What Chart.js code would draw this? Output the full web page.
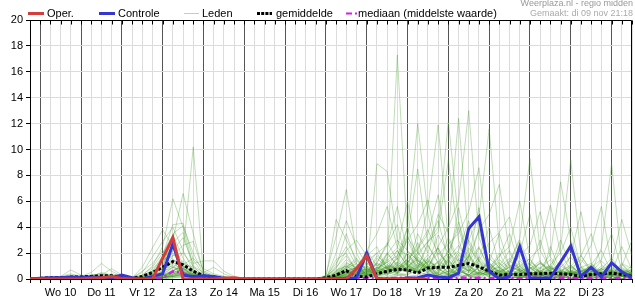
<!DOCTYPE html>
<html lang="nl">
<head>
<meta charset="UTF-8">
<title>Neerslag pluim</title>
<style>
  body { margin: 0; background: #fff; font-family: "Liberation Sans", Arial, sans-serif; }
  #wrap { position: relative; width: 635px; height: 300px; }
  .lg { position: absolute; top: 7px; font-size: 11px; line-height: 13px; color: #000; white-space: nowrap; }
  .sw { position: absolute; top: 7px; }
  .info { position: absolute; right: 2px; font-size: 9px; color: #999; white-space: nowrap; }
</style>
</head>
<body>
<div id="wrap">
  <canvas id="chart" width="635" height="300"></canvas>
  <svg class="sw" style="left:28px" width="16" height="13"><line x1="0" y1="6.5" x2="16" y2="6.5" stroke="#d43d3d" stroke-width="3"/></svg>
  <div class="lg" style="left:47px">Oper.</div>
  <svg class="sw" style="left:99px" width="16" height="13"><line x1="0" y1="6.5" x2="16" y2="6.5" stroke="#3535d0" stroke-width="3"/></svg>
  <div class="lg" style="left:118px">Controle</div>
  <svg class="sw" style="left:184px" width="15" height="13"><line x1="0" y1="6.5" x2="15" y2="6.5" stroke="#b5dba5" stroke-width="1"/></svg>
  <div class="lg" style="left:202px">Leden</div>
  <svg class="sw" style="left:257px" width="15" height="13"><line x1="0" y1="6.5" x2="15" y2="6.5" stroke="#000" stroke-width="3" stroke-dasharray="3 1.2"/></svg>
  <div class="lg" style="left:276px">gemiddelde</div>
  <svg class="sw" style="left:346px" width="12" height="13"><line x1="0" y1="6.5" x2="12" y2="6.5" stroke="#d31ee8" stroke-width="2" stroke-dasharray="6 3 2 3"/></svg>
  <div class="lg" style="left:358px">mediaan (middelste waarde)</div>
  <div class="info" style="top:-2px">Weerplaza.nl - regio midden</div>
  <div class="info" style="top:8px;color:#aaa">Gemaakt: di 09 nov 21:18</div>
</div>

<script src="https://cdn.jsdelivr.net/npm/chart.js"></script>
<script>
  // 6-hourly steps from di 9 nov 18:00 to wo 24 nov 12:00
  const dayLabels = ['Wo 10', 'Do 11', 'Vr 12', 'Za 13', 'Zo 14', 'Ma 15', 'Di 16',
                     'Wo 17', 'Do 18', 'Vr 19', 'Za 20', 'Zo 21', 'Ma 22', 'Di 23'];
  const yTicks = [0, 2, 4, 6, 8, 10, 12, 14, 16, 18, 20];

  const oper = [
    0, 0, 0, 0, 0, 0, 0.05, 0.1, 0.2, 0.05,
    0, 0, 0, 1.6, 3.2, 0, 0, 0, 0, 0.05,
    0.1, 0, 0, 0, 0, 0, 0, 0, 0, 0,
    0, 0, 0.8, 1.8, 0, 0, 0, 0, 0, 0
  ];
  const controle = [
    0, 0.05, 0.1, 0.1, 0.15, 0.1, 0.15, 0.1, 0.1, 0.3,
    0.1, 0, 0.2, 0.4, 2.7, 0.3, 0.2, 0.25, 0.2, 0.05,
    0, 0, 0, 0, 0, 0, 0, 0, 0, 0,
    0, 0.05, 0.1, 2.0, 0, 0, 0, 0.05, 0.1, 0.3,
    0.15, 0.1, 0.45, 3.9, 4.8, 0.6, 0, 0.2, 2.5, 0.05,
    0.05, 0.1, 1.3, 2.55, 0.2, 0.9, 0.15, 1.25, 0.55, 0.1
  ];
  const gemiddelde = [
    0, 0.05, 0.1, 0.1, 0.15, 0.15, 0.2, 0.25, 0.25, 0.15,
    0.05, 0.2, 0.5, 0.9, 1.35, 1.1, 0.6, 0.25, 0.15, 0.05,
    0.02, 0, 0, 0, 0, 0, 0, 0, 0, 0.1,
    0.3, 0.65, 0.2, 0.15, 0.4, 0.6, 0.75, 0.7, 0.45, 0.85,
    0.9, 0.9, 1.05, 1.2, 0.95, 0.6, 0.3, 0.35, 0.35, 0.4,
    0.4, 0.45, 0.4, 0.35, 0.2, 0.35, 0.4, 0.45, 0.35, 0.2
  ];
  const mediaan = [
    0, 0, 0, 0, 0, 0, 0, 0, 0, 0,
    0, 0, 0, 0.1, 0.6, 0.45, 0.1, 0, 0, 0,
    0, 0, 0, 0, 0, 0, 0, 0, 0, 0,
    0, 0.05, 0.05, 0.1, 0.05, 0.05, 0.1, 0.1, 0.05, 0.1,
    0.1, 0.05, 0.1, 0.1, 0.1, 0.05, 0.1, 0.1, 0.05, 0.1,
    0.1, 0.05, 0.1, 0.1, 0.05, 0.1, 0.1, 0.05, 0.1, 0.05
  ];

  const leden = [
    [0,0,0.1,0.1,0.2,0.1,0.1,0.2,0.1,0, 0,0.1,0.8,1.5,1.8,2.0,10.2,0.3,0.1,0, 0,0,0,0,0,0,0,0,0,0.2, 1.2,2.5,1.0,0.4,0.8,1.5,0.6,1.2,2.8,0.9, 0.5,1.8,0.7,0.3,0.9,0.4,0.2,1.1,0.6,0.3, 0.8,1.5,0.4,0.2,0.6,1.0,0.3,0.5,0.9,0.4],
    [0,0.1,0.1,0.2,0.7,0.3,0.1,0.1,0.2,0.1, 0,0.2,0.5,1.2,3.0,6.6,3.5,0.5,0.2,0.1, 0,0,0,0,0,0,0,0,0,0.3, 3.3,6.9,2.0,0.5,1.2,0.8,2.2,1.0,0.4,1.6, 2.4,0.8,0.3,1.9,0.6,0.2,0.9,0.3,1.4,0.5, 0.2,0.7,1.2,0.4,0.1,0.3,0.8,1.6,0.5,0.2],
    [0,0,0,0.1,0.1,0.2,0.3,0.4,0.2,0.1, 0,0.3,1.0,2.5,6.2,4.0,1.0,0.2,0.1,0, 0,0,0,0,0,0,0,0,0,0.1, 4.6,3.0,1.5,0.8,0.3,0.6,1.8,3.4,1.2,0.7, 1.0,3.2,1.5,0.6,0.2,0.8,2.0,0.5,0.2,1.1, 0.5,0.3,0.9,1.7,0.6,0.2,0.4,0.3,1.2,0.8],
    [0.1,0.1,0,0,0.1,0.2,0.5,1.2,0.6,0.2, 0.1,0.2,0.6,1.8,4.2,4.3,1.5,0.3,0.1,0, 0,0,0,0,0,0,0,0,0,0, 2.0,4.5,2.5,1.0,0.5,2.0,1.0,0.5,0.9,2.6, 1.2,0.4,0.8,3.0,1.4,0.5,0.3,0.2,0.7,0.4, 1.3,0.6,0.2,0.5,1.8,0.7,0.3,0.2,0.4,1.0],
    [0,0,0.1,0.1,0.1,0.1,0.2,0.3,0.8,0.3, 0.1,0.5,1.7,2.9,4.0,2.2,0.6,0.1,0,0, 0,0,0,0,0,0,0,0,0,0.1, 1.0,3.5,1.2,0.3,1.6,0.9,0.4,2.1,1.5,0.6, 0.9,2.0,4.4,1.1,0.3,0.6,1.5,0.8,0.3,0.2, 0.6,1.0,0.4,0.9,0.3,0.5,1.4,0.6,0.2,0.3],
    [0,0,0,0.1,0.3,0.2,0.1,0.1,0.1,0, 0,0.1,0.3,0.9,3.5,4.1,2.0,0.4,0.2,0.1, 0,0,0,0,0,0,0,0,0,0, 0.4,1.1,0.7,0.5,8.9,8.3,3.0,1.0,0.6,1.4, 0.8,0.3,1.2,0.6,2.4,0.9,0.4,0.2,0.8,1.6, 0.4,0.2,0.7,0.3,0.9,1.2,0.5,0.2,0.6,0.3],
    [0,0.1,0.1,0.1,0.2,0.1,0.2,0.5,0.3,0.1, 0.1,0.9,2.4,3.8,2.5,1.2,0.4,0,0,0, 0,0,0,0,0,0,0,0,0,0, 0.6,1.5,0.9,0.3,0.7,1.5,17.3,3.0,1.2,0.8, 0.4,1.5,0.6,0.3,0.9,0.5,1.0,2.2,0.7,0.3, 0.2,0.6,1.3,0.5,0.2,0.4,0.8,0.3,0.5,0.7],
    [0,0,0,0,0.1,0.2,0.2,0.1,0.1,0, 0,0.1,0.2,0.6,2.2,3.2,1.2,1.4,1.4,0.6, 0.2,0,0,0,0,0,0,0,0,0.1, 0.9,1.8,0.6,1.4,2.0,0.8,1.2,4.0,12.0,5.0, 1.6,0.7,0.3,1.0,0.5,1.3,0.4,0.2,0.6,0.9, 0.3,0.4,0.6,1.1,0.3,0.2,0.5,0.7,0.4,0.2],
    [0.1,0.1,0.1,0.2,0.4,0.2,0.1,0.2,0.3,0.1, 0,0.3,0.9,2.0,3.4,1.6,0.5,0.2,0,0, 0,0,0,0,0,0,0,0,0,0.2, 0.8,2.2,3.0,1.8,2.5,0.7,1.6,3.2,2.0,5.5, 11.9,3.0,1.2,0.6,1.5,0.8,0.3,0.6,1.2,0.4, 0.7,0.3,0.2,0.8,1.5,0.6,0.3,0.4,1.1,0.5],
    [0,0,0,0,0.1,0.1,0.1,0.2,0.1,0, 0,0,0.1,0.4,1.8,2.6,2.9,0.6,0.3,0.2, 0,0,0,0,0,0,0,0,0,0, 1.5,2.0,0.6,2.2,3.5,5.6,2.4,1.8,0.9,2.8, 4.0,12.2,4.5,1.6,0.7,0.4,1.2,0.5,0.3,0.8, 1.4,0.5,0.3,0.6,0.4,0.9,0.2,0.6,0.3,0.8],
    [0,0.1,0.2,0.2,0.1,0.1,0.3,0.4,0.2,0.1, 0,0.2,0.4,1.0,2.8,3.6,0.8,0.1,0,0, 0,0,0,0,0,0,0,0,0,0.1, 0.5,0.9,1.6,0.6,1.3,2.6,4.2,1.0,3.5,2.0, 5.0,3.6,12.4,2.8,1.0,0.5,0.3,1.4,0.8,0.2, 0.5,1.0,0.4,0.3,0.7,0.3,1.0,0.4,0.2,0.6],
    [0,0,0.1,0.1,0.1,0.2,0.1,0.1,0.2,0.1, 0.1,0.6,1.2,2.2,1.5,0.8,0.3,0,0,0, 0,0,0,0,0,0,0,0,0,0, 0.3,0.8,0.5,1.0,0.6,1.9,3.0,2.2,1.4,0.8, 2.5,4.0,6.0,13.0,3.2,1.2,0.6,0.4,0.3,0.9, 0.6,0.4,1.0,0.5,0.3,0.2,0.7,1.2,0.4,0.3],
    [0,0,0,0,0.1,0.1,0.1,0.2,0.1,0, 0,0.1,0.3,0.7,1.2,2.0,1.0,0.5,0.2,0.1, 0,0,0,0,0,0,0,0,0,0, 0.2,1.2,0.9,0.4,1.8,1.1,0.7,1.6,2.4,3.8, 1.9,2.7,3.5,5.2,8.6,2.0,0.8,0.5,1.0,0.4, 0.3,0.8,0.6,0.3,0.5,1.1,0.4,0.3,0.6,0.2],
    [0,0,0,0.1,0.2,0.3,0.2,0.1,0.1,0, 0,0.1,0.2,0.5,1.5,1.0,0.6,0.2,0.1,0, 0,0,0,0,0,0,0,0,0,0, 0.1,0.6,0.4,0.9,0.5,1.4,2.2,0.9,1.7,1.2, 3.4,2.0,1.4,3.0,4.8,11.6,2.5,1.0,0.6,0.3, 0.9,0.4,0.3,0.7,0.2,0.6,0.3,0.9,0.5,0.4],
    [0,0,0,0,0,0.1,0.1,0.1,0,0, 0,0,0,0.3,0.9,1.4,0.7,0.1,0,0, 0,0,0,0,0,0,0,0,0,0, 0.3,0.5,0.2,0.6,0.9,0.4,1.0,2.0,0.8,1.3, 0.7,1.6,2.6,1.2,3.8,5.0,7.3,2.0,0.6,0.3, 0.2,0.5,0.8,0.3,0.6,0.2,0.4,0.6,0.3,0.5],
    [0,0.1,0.1,0.1,0.1,0.2,0.3,0.2,0.4,0.2, 0.1,0.3,0.6,1.4,2.0,0.9,0.2,0,0,0, 0,0,0,0,0,0,0,0,0,0.1, 0.7,1.0,0.6,0.3,1.2,2.8,1.5,3.0,4.2,6.1, 2.2,0.9,1.5,0.7,0.4,1.6,0.9,0.3,0.5,1.2, 0.4,0.7,0.2,1.0,0.4,0.3,0.8,0.5,0.3,0.7],
    [0,0,0,0,0.1,0.1,0.2,0.1,0.1,0, 0,0,0.1,0.2,0.6,1.1,1.6,0.8,0.4,0.2, 0.1,0,0,0,0,0,0,0,0,0, 0.2,0.4,0.8,0.3,0.6,1.0,0.5,1.4,0.7,1.0, 2.0,1.2,0.6,2.4,1.4,2.8,3.6,4.8,1.6,0.6, 0.3,0.9,0.5,0.3,0.2,0.7,0.5,0.3,0.8,0.4],
    [0,0,0,0,0,0.1,0.1,0.1,0.1,0, 0,0,0,0.1,0.5,0.8,0.4,0.1,0,0, 0,0,0,0,0,0,0,0,0,0, 0.1,0.3,0.5,0.2,0.4,0.9,1.3,0.6,1.1,0.5, 1.4,0.8,2.1,0.9,1.2,0.6,1.8,2.5,6.0,1.5, 0.5,0.3,0.6,0.4,0.9,0.3,0.2,0.5,0.7,0.3],
    [0,0,0.1,0.1,0.2,0.1,0.1,0.2,0.1,0, 0,0.2,0.5,0.8,1.0,0.5,0.2,0,0,0, 0,0,0,0,0,0,0,0,0,0, 0.4,0.9,1.4,0.7,0.3,0.6,0.9,1.5,0.8,1.9, 0.6,1.3,0.8,0.5,1.1,0.4,0.7,1.4,3.1,9.3, 2.2,0.8,0.4,0.6,0.3,0.5,0.8,0.4,0.2,0.5],
    [0,0,0,0,0.1,0.1,0.1,0.1,0,0, 0,0,0,0.2,0.4,0.6,0.3,0,0,0, 0,0,0,0,0,0,0,0,0,0, 0.1,0.2,0.4,0.8,0.5,0.3,1.1,0.7,1.6,0.9, 1.2,0.5,1.9,0.8,0.4,1.0,0.6,0.9,1.8,2.6, 5.2,1.7,0.6,0.4,0.8,0.3,0.5,0.7,0.3,0.4],
    [0,0,0,0.1,0.1,0.1,0.2,0.3,0.2,0.1, 0,0.1,0.2,0.4,0.9,0.7,0.3,0.5,0.9,0.4, 0.1,0,0,0,0,0,0,0,0,0, 0.2,0.5,0.3,0.6,1.1,0.5,0.8,1.2,0.6,1.4, 0.9,2.2,1.0,0.6,1.7,0.8,1.3,0.5,1.0,1.6, 2.4,5.7,2.0,0.7,0.3,0.6,0.4,0.8,0.5,0.2],
    [0,0,0,0,0.1,0.1,0.1,0.1,0.1,0, 0,0,0.1,0.3,0.6,1.2,0.9,0.3,0.1,0, 0,0,0,0,0,0,0,0,0,0, 0.3,0.7,0.4,0.2,0.8,1.3,0.6,0.9,2.0,1.1, 0.5,1.4,0.7,1.8,0.6,1.2,0.5,0.9,0.7,1.3, 0.8,1.9,7.5,3.0,1.0,0.4,0.6,0.3,0.7,0.5],
    [0,0,0,0,0,0.1,0.1,0.1,0.1,0, 0,0,0,0.1,0.3,0.5,0.4,0.2,0.1,0, 0,0,0,0,0,0,0,0,0,0, 0.1,0.4,0.7,0.3,0.5,0.8,1.6,0.5,0.9,1.5, 0.8,0.4,1.1,0.6,1.4,0.7,0.9,1.6,0.6,0.8, 1.2,0.6,2.4,9.2,1.8,0.6,0.4,0.7,0.3,0.5],
    [0,0,0,0,0,0,0.1,0.1,0,0, 0,0,0,0.1,0.2,0.4,0.2,0,0,0, 0,0,0,0,0,0,0,0,0,0, 0.2,0.3,0.2,0.4,0.9,0.6,0.4,1.0,0.7,0.5, 0,0.4,0,0.3,0,0,0.5,0,0.2,0, 0.3,0.9,0.4,1.8,5.2,1.2,0.3,0,0.2,0],
    [0,0,0,0,0.1,0.1,0.1,0.2,0.1,0, 0,0,0.1,0.3,0.5,0.8,0.6,0.3,0.2,0.1, 0,0,0,0,0,0,0,0,0,0, 0.2,0.6,0.9,0.4,0.2,0.7,1.1,0.8,0.5,1.2, 0.2,0,0.3,0,0,0.6,0.2,0,0.3,0, 0.4,0,0.2,0.5,1.2,2.6,5.6,1.0,0.2,0.3],
    [0,0,0,0,0,0.1,0.1,0,0,0, 0,0,0,0.1,0.3,0.4,0.2,0.1,0,0, 0,0,0,0,0,0,0,0,0,0, 0.1,0.2,0.5,0.3,0.7,0.4,0.9,0.6,1.4,0.8, 0,0.3,0.8,0.2,0,0,0.2,0.6,0,0.3, 0,0.4,0,0.6,0.2,0.5,2.4,8.9,1.2,0.2],
    [0,0,0,0,0.1,0,0.1,0.1,0,0, 0,0,0,0.1,0.2,0.3,0.2,0,0,0, 0,0,0,0,0,0,0,0,0,0, 0.3,0.5,0.2,0.6,0.4,0.9,0.5,0.3,0.8,0.6, 0.4,0,0.3,0,0.5,0.2,0.6,0,0.2,0.5, 0,0.3,0.6,0,0.2,0.4,0,1.2,4.6,1.8],
    [0,0,0,0,0,0.1,0.1,0.1,0,0, 0,0,0,0.1,0.3,0.3,0.1,0,0,0, 0,0,0,0,0,0,0,0,0,0, 0.1,0.4,0.6,0.2,0.5,0.3,0.7,1.1,0.6,0.9, 0,0.3,0,0.5,0.2,0.4,0,0.3,0.5,0, 0.4,0,0.3,0,0.2,0,0.4,0.2,1.0,3.0],
    [0,0,0,0,0.1,0.1,0.1,0.1,0,0, 0,0.1,0.3,0.6,0.9,0.5,0.2,0.1,0,0, 0,0,0,0,0,0,0,0,0,0, 0.5,1.3,0.8,2.2,1.0,1.6,2.4,6.0,2.1,1.0, 0.3,0.9,0.4,1.6,5.5,1.0,0.2,0.4,0,0.3, 0,0.3,0,0.5,0.1,0,0.3,0,0.4,0],
    [0,0,0,0.1,0.1,0.2,0.1,0.1,0.1,0, 0,0.1,0.2,0.5,1.1,0.8,0.3,0.1,0,0, 0,0,0,0,0,0,0,0,0,0, 0.3,0.8,1.2,0.5,0.9,2.0,1.1,3.2,8.5,2.6, 1.3,2.0,4.0,1.0,0.3,0.6,0,0.3,0.6,0, 0.2,0,0.3,0.5,0,0.4,0,0.2,0,0.3],
    [0,0,0,0,0,0.1,0.2,0.2,0.1,0, 0,0,0.1,0.3,0.7,0.9,0.4,0.2,0,0, 0,0,0,0,0,0,0,0,0,0, 0.2,0.7,0.4,0.8,0.5,1.0,0.7,1.5,2.3,3.5, 6.5,2.1,0.8,0.3,1.0,0.3,0.5,1.2,3.0,0.9, 0.3,0,0.2,0.4,0.6,0,0.3,0,0.2,0.5],
    [0,0,0.1,0.1,0.1,0.1,0.1,0.2,0.1,0, 0,0.1,0.4,0.8,1.3,0.6,0.2,0,0,0, 0,0,0,0,0,0,0,0,0,0, 0.4,0.6,0.9,1.2,0.7,0.4,1.3,0.8,1.8,2.9, 3.6,9.2,3.0,0.8,1.6,4.0,1.0,0.2,0,0.4, 0.6,0,0,0.3,0,0.5,0.2,0,0.3,0],
    [0,0,0,0,0.1,0.1,0.1,0.1,0,0, 0,0,0.1,0.2,0.6,1.0,0.5,0.1,0,0, 0,0,0,0,0,0,0,0,0,0, 0.2,0.5,0.3,0.7,1.2,0.8,0.5,1.0,1.5,0.9, 2.4,1.0,5.5,2.0,0.6,1.3,3.5,0.9,0.3,1.0, 3.0,0.6,0.2,0,0.3,0,0.6,0.2,0,0],
    [0,0,0,0,0,0.1,0.1,0.1,0.1,0, 0,0,0.1,0.3,0.5,0.7,0.4,0.1,0,0, 0,0,0,0,0,0,0,0,0,0, 0.6,1.0,0.5,1.1,2.0,2.6,5.6,2.0,1.0,1.6, 0.6,1.5,2.2,4.5,1.3,0.5,0.2,0.7,0.3,0, 0.5,0.2,0,0.3,0.7,0,0,0.3,0,0.4],
    [0,0,0,0,0.1,0.1,0.1,0.1,0,0, 0,0,0,0.2,0.4,0.6,0.3,0.1,0,0, 0,0,0,0,0,0,0,0,0,0, 0.3,0.9,0.6,0.3,0.8,1.3,1.8,4.0,1.4,0.9, 1.3,0.5,1.0,1.7,3.8,1.1,0.4,0.2,0.8,0.5, 0,2.5,0.6,0,0,0.3,0.5,0,0.2,0],
    [0,0,0,0,0,0,0.1,0.1,0,0, 0,0,0,0.1,0.3,0.5,0.3,0.1,0,0, 0,0,0,0,0,0,0,0,0,0, 0.1,0.4,0.7,0.4,0.3,0.7,1.0,0.6,1.2,0.8, 0.8,0.3,0.6,1.1,0.4,0.9,1.7,3.5,1.0,0.3, 0.6,1.1,2.0,4.0,0.9,0.2,0,0.4,0,0.3],
    [0,0,0,0,0.1,0.1,0.1,0.1,0.1,0, 0,0,0.1,0.2,0.5,0.4,0.2,0,0,0, 0,0,0,0,0,0,0,0,0,0, 0.2,0.5,0.9,0.6,0.4,1.1,0.8,1.3,2.0,2.9, 4.5,1.5,0.6,0.3,0.9,0.4,0.7,0.3,2.0,5.0, 1.3,0.4,0.2,0.5,0,0.3,0.7,0.2,0,0],
    [0,0,0,0,0,0.1,0.1,0,0,0, 0,0,0,0.1,0.2,0.4,0.3,0.1,0,0, 0,0,0,0,0,0,0,0,0,0, 0.1,0.3,0.5,0.8,0.4,0.6,0.9,0.5,1.0,0.7, 0.2,0.9,0.4,0.7,0.3,0.6,0,0.5,0.2,0.8, 0.4,0,0.6,1.0,1.8,3.5,1.1,0.5,2.5,0.7],
    [0,0,0,0,0,0,0.1,0.1,0,0, 0,0,0,0.1,0.2,0.3,0.2,0,0,0, 0,0,0,0,0,0,0,0,0,0, 0.2,0.6,0.3,0.5,0.7,0.4,0.6,0.9,0.5,0.8, 0.3,0.6,1.0,0.2,0.5,0.3,0.7,0.4,0,0.6, 1.2,0.8,3.0,1.0,0.4,1.1,2.2,0.5,0,0.2],
    [0,0,0,0,0,0.1,0.1,0.1,0,0, 0,0,0,0.1,0.4,0.5,0.2,0,0,0, 0,0,0,0,0,0,0,0,0,0, 0.1,0.3,0.4,0.2,0.6,0.9,0.5,0.8,0.6,1.0, 0.4,0.2,0.7,1.3,2.5,0.6,0.3,0.5,0.2,0.4, 0.2,0.5,0.3,0,0.6,0.9,1.5,3.5,0.7,0.3],
    [0,0,0,0,0,0,0,0.1,0,0, 0,0,0,0.1,0.2,0.2,0.1,0,0,0, 0,0,0,0,0,0,0,0,0,0, 0.1,0.2,0.1,0.3,0.2,0.5,0.3,0.4,0.6,0.3, 0.5,0.4,0.7,0.3,0.5,0.4,0.6,0.3,0.5,0.4, 0.6,0.3,0.4,0.5,0.3,0.6,0.4,0.5,0.3,0.4],
    [0,0,0,0,0,0,0,0,0,0, 0,0,0,0,0.1,0.2,0.1,0,0,0, 0,0,0,0,0,0,0,0,0,0, 0,0.2,0.3,0.1,0.3,0.2,0.4,0.2,0.3,0.5, 0.3,0.6,0.4,0.2,0.4,0.3,0.5,0.4,0.2,0.3, 0.4,0.2,0.3,0.5,0.2,0.4,0.3,0.2,0.4,0.3],
    [0,0,0,0,0,0,0,0,0,0, 0,0,0,0,0.1,0.1,0,0,0,0, 0,0,0,0,0,0,0,0,0,0, 0,0.1,0.2,0.1,0.2,0.1,0.3,0.2,0.1,0.3, 0.2,0.4,0.2,0.3,0.1,0.2,0.3,0.1,0.2,0.3, 0.1,0.3,0.2,0.1,0.3,0.2,0.1,0.3,0.2,0.1]
  ];

  const toXY = arr => arr.map((v, i) => ({ x: i, y: v }));

  const datasets = [
    { label: 'Oper.', data: toXY(oper), borderColor: '#d43d3d', borderWidth: 3 },
    { label: 'Controle', data: toXY(controle), borderColor: '#3535d0', borderWidth: 3 },
    { label: 'gemiddelde', data: toXY(gemiddelde), borderColor: '#000', borderWidth: 3, borderDash: [3, 2] },
    { label: 'mediaan', data: toXY(mediaan), borderColor: '#d31ee8', borderWidth: 2.5, borderDash: [6, 3, 2, 3] }
  ];
  leden.forEach((m, k) => {
    datasets.push({ label: 'Leden ' + (k + 1), data: toXY(m), borderColor: 'rgba(60,150,30,0.32)', borderWidth: 1 });
  });

  // black frame around the plot + small ticks hanging from the top edge
  const frame = {
    id: 'frame',
    beforeDatasetsDraw(chart) {
      const { ctx, chartArea: a, scales: { x } } = chart;
      ctx.save();
      ctx.strokeStyle = '#000';
      ctx.lineWidth = 1;
      ctx.beginPath();
      const top = Math.round(a.top) + 0.5;
      const right = Math.round(a.right) - 0.5;
      ctx.moveTo(a.left, top);
      ctx.lineTo(right, top);
      ctx.lineTo(right, a.bottom);
      x.ticks.forEach(t => {
        const px = Math.round(x.getPixelForValue(t.value)) + 0.5;
        ctx.moveTo(px, top);
        ctx.lineTo(px, top + 4);
      });
      ctx.stroke();
      ctx.restore();
    }
  };

  Chart.defaults.font.family = '"Liberation Sans", Arial, sans-serif';
  Chart.defaults.font.size = 11;
  Chart.defaults.color = '#000';

  new Chart(document.getElementById('chart'), {
    type: 'line',
    data: { datasets },
    options: {
      responsive: false,
      animation: false,
      devicePixelRatio: 1,
      layout: { padding: { top: 20, right: 1, left: 0, bottom: 0 } },
      elements: { point: { radius: 0 }, line: { tension: 0 } },
      plugins: { legend: { display: false }, tooltip: { enabled: false } },
      scales: {
        x: {
          type: 'linear',
          min: 0,
          max: 59,
          afterFit: s => { s.height = 21; },
          border: { color: '#000' },
          grid: {
            color: c => ((c.tick.value - 1) % 4 === 0 ? '#555' : '#dcdcdc'),
            tickColor: '#000',
            tickLength: 4
          },
          ticks: {
            stepSize: 1,
            autoSkip: false,
            maxRotation: 0,
            padding: 3,
            callback: v => ((v - 3) % 4 === 0 && dayLabels[(v - 3) / 4]) ? dayLabels[(v - 3) / 4] : ''
          }
        },
        y: {
          min: 0,
          max: 20,
          afterFit: s => { s.width = 30; },
          afterBuildTicks: s => { s.ticks = yTicks.map(v => ({ value: v })); },
          border: { color: '#000' },
          grid: { color: '#dcdcdc', tickColor: '#000', tickLength: 4 },
          ticks: { padding: 3 }
        }
      }
    },
    plugins: [frame]
  });
</script>
</body>
</html>
